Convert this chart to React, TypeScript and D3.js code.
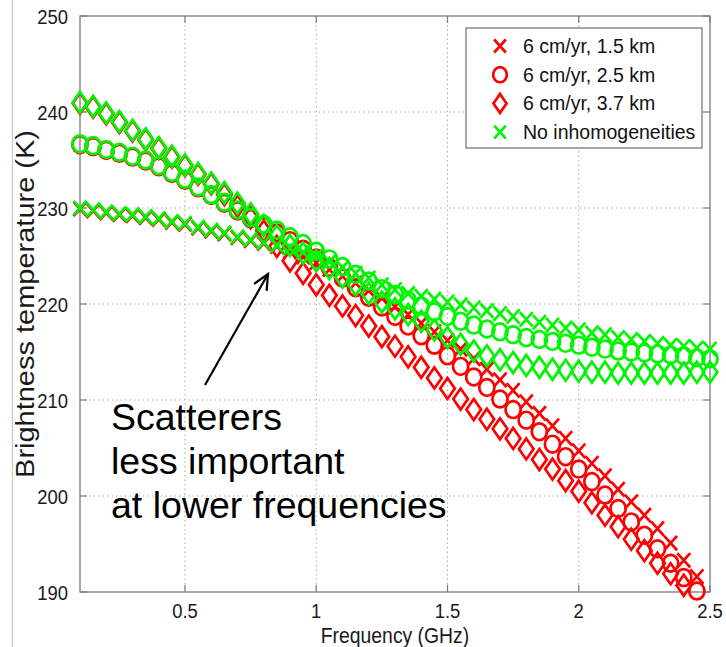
import React from "react";
import * as d3 from "d3";

const freqs = [0.1, 0.15, 0.2, 0.25, 0.3, 0.35, 0.4, 0.45, 0.5, 0.55, 0.6, 0.65, 0.7, 0.75, 0.8, 0.85, 0.9, 0.95, 1.0, 1.05, 1.1, 1.15, 1.2, 1.25, 1.3, 1.35, 1.4, 1.45, 1.5, 1.55, 1.6, 1.65, 1.7, 1.75, 1.8, 1.85, 1.9, 1.95, 2.0, 2.05, 2.1, 2.15, 2.2, 2.25, 2.3, 2.35, 2.4, 2.45, 2.5];

const red15 = [229.9, 229.7, 229.5, 229.3, 229.2, 229.0, 228.8, 228.5, 228.3, 227.9, 227.6, 227.3, 226.9, 226.6, 226.3, 226.0, 225.5, 224.9, 224.3, 223.6, 222.9, 222.2, 221.4, 220.6, 219.7, 218.9, 218.0, 217.1, 216.2, 215.3, 214.3, 213.2, 212.1, 211.0, 209.8, 208.6, 207.3, 206.0, 204.7, 203.4, 202.1, 200.7, 199.4, 198.0, 196.6, 195.1, 193.3, 191.6, 189.9];
const red25 = [236.6, 236.4, 236.0, 235.7, 235.3, 234.9, 234.3, 233.6, 232.9, 232.1, 231.3, 230.5, 229.7, 228.9, 228.1, 227.4, 226.6, 225.7, 224.8, 223.8, 222.7, 221.7, 220.7, 219.7, 218.7, 217.7, 216.7, 215.7, 214.6, 213.5, 212.4, 211.3, 210.1, 209.0, 207.9, 206.7, 205.4, 204.1, 202.8, 201.5, 200.1, 198.7, 197.3, 195.9, 194.5, 193.0, 191.5, 190.1, 188.6];
const red37 = [240.9, 240.5, 239.8, 238.9, 238.0, 237.1, 236.2, 235.3, 234.4, 233.5, 232.5, 231.4, 230.2, 229.0, 227.6, 226.0, 224.5, 223.2, 222.0, 220.9, 219.8, 218.8, 217.7, 216.6, 215.6, 214.5, 213.4, 212.3, 211.2, 210.1, 209.0, 208.0, 207.0, 206.0, 204.9, 203.8, 202.8, 201.6, 200.5, 199.3, 198.0, 196.8, 195.5, 194.3, 193.0, 191.9, 190.7, 189.5, 188.3];
const green15 = [230.0, 229.8, 229.6, 229.4, 229.3, 229.1, 228.9, 228.6, 228.4, 228.0, 227.7, 227.4, 227.0, 226.7, 226.4, 226.1, 225.8, 225.4, 225.0, 224.4, 223.8, 223.2, 222.7, 222.0, 221.5, 221.1, 220.8, 220.5, 220.2, 219.9, 219.6, 219.3, 219.0, 218.7, 218.4, 218.1, 217.8, 217.5, 217.3, 217.0, 216.8, 216.5, 216.3, 216.1, 215.9, 215.7, 215.6, 215.4, 215.3];
const green25 = [236.7, 236.5, 236.1, 235.8, 235.4, 235.0, 234.4, 233.7, 233.0, 232.2, 231.4, 230.6, 229.8, 229.0, 228.3, 227.7, 227.0, 226.3, 225.5, 224.7, 223.9, 223.1, 222.4, 221.6, 221.0, 220.4, 219.8, 219.2, 218.7, 218.2, 217.8, 217.4, 217.1, 216.8, 216.5, 216.3, 216.1, 215.9, 215.7, 215.5, 215.3, 215.1, 215.0, 214.9, 214.8, 214.7, 214.6, 214.4, 214.3];
const green37 = [241.0, 240.6, 239.9, 239.0, 238.1, 237.2, 236.3, 235.4, 234.5, 233.6, 232.6, 231.6, 230.5, 229.4, 228.2, 227.1, 226.1, 225.3, 224.5, 223.7, 222.8, 222.0, 221.1, 220.2, 219.5, 218.9, 218.2, 217.3, 216.5, 215.8, 215.1, 214.6, 214.2, 213.9, 213.6, 213.4, 213.2, 213.1, 213.0, 212.9, 212.9, 212.8, 212.8, 212.8, 212.8, 212.8, 212.8, 212.9, 212.9];

const xTicks = [0.5, 1, 1.5, 2, 2.5];
const xTickLabels = ["0.5", "1", "1.5", "2", "2.5"];
const yTicks = [190, 200, 210, 220, 230, 240, 250];

const legendLabels = ["6 cm/yr, 1.5 km", "6 cm/yr, 2.5 km", "6 cm/yr, 3.7 km", "No inhomogeneities"];
const annotationLines = ["Scatterers", "less important", "at lower frequencies"];

const RED = "#ff0000";
const GREEN = "#00f500";
const FONT = "'Liberation Sans', Arial, Helvetica, sans-serif";

type Shape = "x" | "o" | "d";

const series: { values: number[]; color: string; shape: Shape }[] = [
  { values: red15, color: RED, shape: "x" },
  { values: red25, color: RED, shape: "o" },
  { values: red37, color: RED, shape: "d" },
  { values: green15, color: GREEN, shape: "x" },
  { values: green25, color: GREEN, shape: "o" },
  { values: green37, color: GREEN, shape: "d" },
];

function Marker({ shape, x, y, color, k = 1 }: { shape: Shape; x: number; y: number; color: string; k?: number }) {
  const sw = 2.7;
  if (shape === "x") {
    const sx = 6.5 * k,
      sy = 7.2 * k;
    return (
      <path
        d={`M${x - sx},${y - sy}L${x + sx},${y + sy}M${x - sx},${y + sy}L${x + sx},${y - sy}`}
        stroke={color}
        strokeWidth={sw}
        fill="none"
      />
    );
  }
  if (shape === "o") {
    return <ellipse cx={x} cy={y} rx={7.6 * k} ry={8.4 * k} stroke={color} strokeWidth={sw} fill="none" />;
  }
  return (
    <path
      d={`M${x},${y - 10.5 * k}L${x + 7.3 * k},${y}L${x},${y + 10.5 * k}L${x - 7.3 * k},${y}Z`}
      stroke={color}
      strokeWidth={sw}
      fill="none"
      strokeLinejoin="miter"
    />
  );
}

export default function App() {
  const W = 726;
  const H = 647;
  const left = 80,
    right = 710,
    top = 16,
    bottom = 592;
  const x = d3.scaleLinear().domain([0.1, 2.5]).range([left, right]);
  const y = d3.scaleLinear().domain([190, 250]).range([bottom, top]);
  const [y0, y1] = y.domain();

  const tickLen = 7;
  const axisColor = "#7a7a7a";
  const textColor = "#1a1a1a";
  const cx = 0.88;

  // arrow
  const ax1 = 205,
    ay1 = 385,
    ax2 = 268,
    ay2 = 274;
  const ang = Math.atan2(ay2 - ay1, ax2 - ax1);
  const headLen = 17;
  const headAng = (25 * Math.PI) / 180;
  const h1x = ax2 - headLen * Math.cos(ang - headAng);
  const h1y = ay2 - headLen * Math.sin(ang - headAng);
  const h2x = ax2 - headLen * Math.cos(ang + headAng);
  const h2y = ay2 - headLen * Math.sin(ang + headAng);

  const legendShapes: { shape: Shape; color: string }[] = [
    { shape: "x", color: RED },
    { shape: "o", color: RED },
    { shape: "d", color: RED },
    { shape: "x", color: GREEN },
  ];

  return (
    <svg
      width={W}
      height={H}
      style={{ position: "absolute", left: 0, top: 0, background: "#fff" }}
      fontFamily={FONT}
    >
      <rect x={0} y={0} width={W} height={H} fill="#fff" />
      <line x1={12.5} x2={12.5} y1={0} y2={H} stroke="#c8c8c8" strokeWidth={1.2} />

      {/* grid */}
      {xTicks.slice(0, -1).map((t) => (
        <line key={"gx" + t} x1={x(t)} x2={x(t)} y1={top} y2={bottom} stroke="#aaa" strokeWidth={1} strokeDasharray="1.5,3" />
      ))}
      {yTicks.slice(1, -1).map((t) => (
        <line key={"gy" + t} x1={left} x2={right} y1={y(t)} y2={y(t)} stroke="#aaa" strokeWidth={1} strokeDasharray="1.5,3" />
      ))}

      {/* axes box */}
      <rect x={left} y={top} width={right - left} height={bottom - top} fill="none" stroke={axisColor} strokeWidth={1.3} />

      {/* ticks */}
      {xTicks.map((t) => (
        <g key={"tx" + t}>
          <line x1={x(t)} x2={x(t)} y1={bottom} y2={bottom - tickLen} stroke={axisColor} strokeWidth={1.2} />
          <line x1={x(t)} x2={x(t)} y1={top} y2={top + tickLen} stroke={axisColor} strokeWidth={1.2} />
        </g>
      ))}
      {yTicks.map((t) => (
        <g key={"ty" + t}>
          <line x1={left} x2={left + tickLen} y1={y(t)} y2={y(t)} stroke={axisColor} strokeWidth={1.2} />
          <line x1={right} x2={right - tickLen} y1={y(t)} y2={y(t)} stroke={axisColor} strokeWidth={1.2} />
        </g>
      ))}

      {/* series */}
      {series.map((s, si) => (
        <g key={"s" + si}>
          {s.values.map((v, i) =>
            v >= y0 && v <= y1 ? <Marker key={i} shape={s.shape} x={x(freqs[i])} y={y(v)} color={s.color} /> : null
          )}
        </g>
      ))}

      {/* tick labels */}
      {xTicks.map((t, i) => (
        <text
          key={"lx" + t}
          transform={`translate(${x(t)},618) scale(${cx},1)`}
          textAnchor="middle"
          fontSize={21}
          fill={textColor}
        >
          {xTickLabels[i]}
        </text>
      ))}
      {yTicks.map((t) => (
        <text
          key={"ly" + t}
          transform={`translate(68,${y(t)}) scale(${cx},1)`}
          dy="0.36em"
          textAnchor="end"
          fontSize={21}
          fill={textColor}
        >
          {t}
        </text>
      ))}

      {/* axis labels */}
      <text
        transform={`translate(${(left + right) / 2},643) scale(${cx},1)`}
        textAnchor="middle"
        fontSize={22}
        fill={textColor}
      >
        Frequency (GHz)
      </text>
      <text
        transform={`translate(25,${(top + bottom) / 2}) rotate(-90) scale(1,${cx})`}
        textAnchor="middle"
        dy="0.36em"
        fontSize={29}
        fill={textColor}
      >
        Brightness temperature (K)
      </text>

      {/* legend */}
      <rect x={466} y={28} width={236} height={120} fill="#fff" stroke="#777" strokeWidth={1.3} />
      {legendLabels.map((lab, i) => (
        <g key={"lg" + i}>
          <Marker shape={legendShapes[i].shape} x={500} y={46 + i * 28.7} color={legendShapes[i].color} k={0.9} />
          <text x={523} y={46 + i * 28.7} dy="0.36em" fontSize={19.5} fill="#111">
            {lab}
          </text>
        </g>
      ))}

      {/* annotation */}
      <line x1={ax1} y1={ay1} x2={ax2} y2={ay2} stroke="#000" strokeWidth={2.2} />
      <path d={`M${h1x},${h1y}L${ax2},${ay2}L${h2x},${h2y}`} stroke="#000" strokeWidth={2.2} fill="none" />
      {annotationLines.map((l, i) => (
        <text key={"an" + i} x={111} y={430 + i * 44} fontSize={37.5} fill="#000">
          {l}
        </text>
      ))}
    </svg>
  );
}
